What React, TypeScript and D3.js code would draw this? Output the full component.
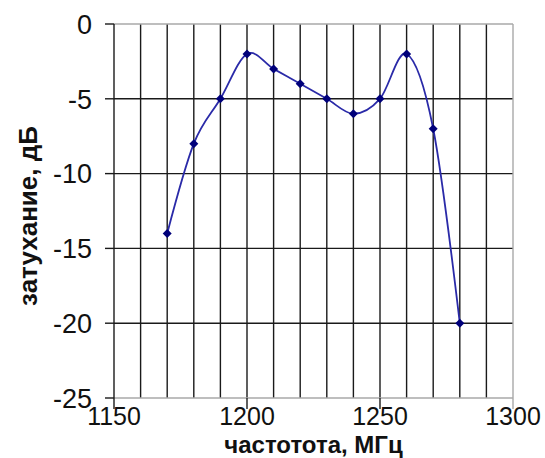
import { line, curveCardinal, scaleLinear, range } from "d3";

// частоты, МГц
const freqs: number[] = [1170, 1180, 1190, 1200, 1210, 1220, 1230, 1240, 1250, 1260, 1270, 1280];
// затухание, дБ
const attenuation: number[] = [-14, -8, -5, -2, -3, -4, -5, -6, -5, -2, -7, -20];

const xTicks: number[] = [1150, 1200, 1250, 1300];
const yTicks: number[] = [0, -5, -10, -15, -20, -25];

const xTitle = "частотота, МГц";
const yTitle = "затухание, дБ";

export default function App() {
    const W = 545;
    const H = 458;
    const margin = { top: 24, right: 32, bottom: 60, left: 114 };
    const innerW = W - margin.left - margin.right;
    const innerH = H - margin.top - margin.bottom;

    const x = scaleLinear().domain([1150, 1300]).range([0, innerW]);
    const y = scaleLinear().domain([-25, 0]).range([innerH, 0]);

    const xGrid = range(1160, 1300, 10);
    const yGrid = [-5, -10, -15, -20];

    const pts = freqs.map((f, i) => [f, attenuation[i]] as [number, number]);
    const path = line<[number, number]>()
        .x((d) => x(d[0]))
        .y((d) => y(d[1]))
        .curve(curveCardinal.tension(0))(pts);

    const font = "'Liberation Sans', Arial, sans-serif";
    const r = 4.5;

    return (
        <svg width={W} height={H} style={{ position: "absolute", left: 0, top: 0 }}>
            <rect width={W} height={H} fill="#fff" />
            <g transform={`translate(${margin.left}, ${margin.top})`}>
                {/* grid */}
                {xGrid.map((v) => (
                    <line key={`gx-${v}`} x1={x(v)} x2={x(v)} y1={0} y2={innerH} stroke="#1a1a1a" strokeWidth={1.4} />
                ))}
                {yGrid.map((v) => (
                    <line key={`gy-${v}`} x1={0} x2={innerW} y1={y(v)} y2={y(v)} stroke="#1a1a1a" strokeWidth={1.4} />
                ))}
                {/* border */}
                <line x1={0} x2={innerW} y1={0} y2={0} stroke="#a8a8a8" strokeWidth={1.4} />
                <line x1={innerW} x2={innerW} y1={0} y2={innerH} stroke="#a8a8a8" strokeWidth={1.4} />

                {/* x axis */}
                <line x1={0} x2={innerW} y1={innerH} y2={innerH} stroke="#a8a8a8" strokeWidth={1.4} />
                {xTicks.map((v) => (
                    <g key={`xt-${v}`}>
                        <line x1={x(v)} x2={x(v)} y1={innerH} y2={innerH + 11}
                            stroke={v === 1300 ? "#a8a8a8" : "#1a1a1a"} strokeWidth={1.4} />
                        <text x={x(v)} y={innerH + 27} textAnchor="middle" fontFamily={font} fontSize={25} fill="#111">
                            {v}
                        </text>
                    </g>
                ))}

                {/* y axis */}
                <line x1={0} x2={0} y1={0} y2={innerH} stroke="#1a1a1a" strokeWidth={1.4} />
                {yTicks.map((v) => (
                    <g key={`yt-${v}`}>
                        <line x1={-9} x2={0} y1={y(v)} y2={y(v)} stroke="#1a1a1a" strokeWidth={1.4} />
                        <text x={-22} y={y(v)} dy="0.36em" textAnchor="end" fontFamily={font} fontSize={27} fill="#111">
                            {v === 0 ? "0" : `-${Math.abs(v)}`}
                        </text>
                    </g>
                ))}

                {/* series */}
                <path d={path ?? ""} fill="none" stroke="#2a2aa8" strokeWidth={1.8} />
                {pts.map(([f, a]) => {
                    const cx = x(f);
                    const cy = y(a);
                    return (
                        <path key={`m-${f}`} d={`M${cx},${cy - r}L${cx + r},${cy}L${cx},${cy + r}L${cx - r},${cy}Z`} fill="#00007a" />
                    );
                })}
            </g>

            <text x={margin.left + innerW / 2} y={453} textAnchor="middle" fontFamily={font} fontWeight="bold" fontSize={24} fill="#111">
                {xTitle}
            </text>
            <text transform={`translate(37, ${margin.top + innerH / 2 + 5}) rotate(-90)`} textAnchor="middle"
                fontFamily={font} fontWeight="bold" fontSize={26} fill="#111">
                {yTitle}
            </text>
        </svg>
    );
}
